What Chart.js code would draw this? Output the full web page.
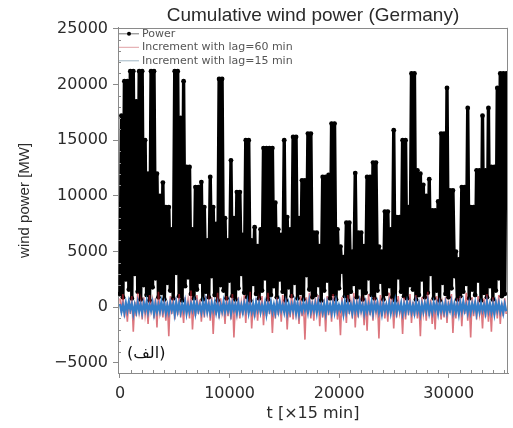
<!DOCTYPE html>
<html>
<head>
<meta charset="utf-8">
<script src="https://cdn.jsdelivr.net/npm/chart.js@4/dist/chart.umd.min.js"></script>
<style>
  html, body { margin: 0; padding: 0; background: #fff; }
  canvas { display: block; }
</style>
</head>
<body>
<canvas id="c" width="513" height="428"></canvas>
<script>
// Sampling step of the series on the t axis (t in units of 15 min)
const SAMPLE_STEP = 135;

// Cumulative wind power [MW], samples in time order
const power = [
  1200, 17200,  900, 20300, 2500, 20300, 1600, 21200,  800, 21200,
  3000, 18500, 1400, 21200,  700, 21200, 2000, 15000, 1100, 12000,
   600, 21200, 1800, 21200, 2600, 12000,  900, 10000, 1300, 11200,
   700,  9000, 2200,  9000, 1500,  7000,  800, 21200, 3100, 21200,
  1000, 17000,  600, 20300, 1900, 12600, 2700, 12600, 1200,  7000,
   800, 10800, 1600, 10800, 2300, 11250,  700,  9000, 1400,  6000,
   900, 11700, 2800,  9000, 1100,  7500,  600, 20500, 2000, 20500,
  1500,  8000,  800,  6000, 2400, 13200, 1000,  8000,  700, 10350,
  1700, 10350, 3000,  6500, 1300, 15000,  900, 15000,  600,  6000,
  2100,  7200, 1200,  5500,  800,  7000, 1500, 14300, 2600, 14300,
   700, 14300, 1100, 14300, 1900,  9400,  900,  7000, 2500,  6500,
  1400, 15000,  600,  8100, 1800,  7000, 1000, 15300, 2200, 15300,
   800,  8000, 1300, 11400,  700, 11400, 2900, 15600, 1600, 15600,
   900,  6700, 1100,  6700, 2000,  5500,  600, 11700, 1500, 11700,
  2400, 11900,  800, 16500, 1200, 16500,  700,  7000, 1700,  5450,
  3200,  4500, 1000,  7600,  600,  7600, 1400,  5000, 2100, 12050,
   900,  6700, 1800,  6700,  700,  5500, 1300, 11700, 2600, 11700,
  1100, 13000,  800, 13000, 1500,  5450, 2300,  5000,  700,  8600,
  1200,  8600, 1900,  7000,  900, 15900,  600,  8100, 2700,  8100,
  1400, 15000, 1000, 15000,  800,  9000, 2000, 21000, 1600, 21000,
   700, 12300, 1100, 12000, 2500, 11000,  900, 10000, 1300, 11500,
  3000,  8700,  800,  8700, 1500,  9500,  600, 15600, 2200, 15600,
  1200, 19700,  900, 10500, 1700, 10500, 2800,  5000,  700,  4300,
  1000, 10800, 1400, 10800, 2100, 17900,  800,  9000, 1600,  9000,
  1100, 12300, 2400, 12300,  600, 17200, 1300, 12300,  900, 17900,
  1900, 12600,  700, 12600, 1500, 19700, 2600, 21000, 1000, 21000,
  1200, 21000
];

// Increment of the power with a lag of 60 min [MW]
const incrementLag60 = [
   800,  -500, 1200,  -900,  300, -1300,  700,  -600, 1000, -2200,  500,  -800, 1300,  -400,  600, -1100,  900,  -700,  400, -1500,
  1100,  -300,  600, -1000,  800, -1800, 1400,  -500,  300,  -900,  700, -1200,  500, -2600, 1000,  -600,  800, -1100,  400,  -700,
  1200,  -900,  300, -1400,  900,  -500,  600, -1000, 1500, -2000,  400,  -800, 1100,  -600,  700, -1300,  500,  -900, 1000,  -400,
   600, -1200,  900, -2400,  400,  -700, 1300, -1000,  800,  -500,  300, -1500, 1000,  -800,  600, -1100, 1200, -2700,  500,  -600,
   900, -1000,  400,  -700, 1100, -1400,  700,  -500, 1400, -1900,  300,  -900,  800, -1200,  600,  -400, 1000, -1600,  500,  -800,
  1300,  -600,  700, -2300,  400, -1000,  900,  -700,  600, -1300, 1100,  -500,  800, -2000,  300,  -900, 1200, -1100,  700,  -600,
   500, -1500, 1000,  -800,  400, -2900,  900,  -600, 1300, -1000,  600, -1200,  800,  -400, 1100, -1700,  500,  -900,  700, -2200,
  1000,  -700,  400, -1300, 1200,  -500,  800, -1100,  300, -2500,  900,  -800,  600, -1400, 1100,  -600,  500, -1000, 1300, -1800,
   700,  -900, 1000,  -400,  500, -1600,  800, -2100, 1200,  -700,  400, -1200,  900,  -500,  600, -2800, 1100,  -800,  700, -1000,
   400, -1300, 1300,  -600,  800, -1900,  600,  -900, 1000,  -500,  300, -2400,  900, -1100,  700,  -700, 1200, -1400,  500,  -800,
  1100, -1000,  600, -2600,  900,  -600,  400, -1200, 1400,  -800,  700, -1500,  500, -2000, 1000,  -700,  800, -1100,  300,  -900,
   900, -1400,  600,  -500, 1200, -2300,  400, -1000,  800,  -700, 1000, -1700,  500,  -600, 1300, -1200,  700, -2700,  900,  -800,
   600, -1100, 1000,  -600,  400, -1900,  800,  -900, 1200, -1300,  500, -2200,  900,  -700,  700, -1000, 1100, -1500,  400,  -800,
   800,  -600
];

// Increment of the power with a lag of 15 min [MW]
const incrementLag15 = [
  300, -400, 200, -500, 400, -300, 500, -200, 300, -600, 200, -400, 450, -350, 250, -500, 350, -250, 500, -450,
  200, -300, 400, -550, 300, -400, 250, -350, 500, -300, 350, -500, 200, -450, 400, -250, 300, -600, 450, -350,
  350, -450, 250, -300, 500, -550, 200, -400, 300, -250, 450, -500, 350, -300, 200, -450, 400, -350, 550, -400,
  250, -500, 350, -300, 400, -450, 300, -600, 200, -350, 500, -400, 250, -300, 450, -550, 350, -250, 300, -500,
  400, -350, 200, -450, 350, -300, 500, -500, 250, -400, 300, -550, 450, -250, 350, -450, 200, -350, 400, -600,
  300, -250, 450, -400, 250, -500, 350, -350, 500, -300, 200, -450, 400, -550, 300, -400, 250, -300, 450, -500,
  350, -600, 200, -350, 400, -250, 300, -450, 550, -400, 250, -300, 350, -500, 450, -350, 200, -450, 300, -550,
  400, -300, 250, -500, 350, -450, 500, -350, 200, -250, 300, -600, 450, -400, 350, -300, 250, -500, 400, -350,
  300, -450, 500, -300, 200, -550, 350, -400, 250, -350, 450, -500, 300, -250, 400, -450, 200, -600, 350, -300,
  250, -400, 400, -500, 300, -350, 550, -450, 200, -300, 350, -550, 250, -400, 450, -300, 300, -450, 200, -500,
  450, -350, 300, -600, 250, -400, 350, -300, 500, -500, 200, -450, 400, -250, 300, -550, 350, -350, 250, -400,
  350, -500, 200, -300, 450, -450, 300, -400, 250, -600, 400, -350, 500, -300, 200, -500, 350, -450, 300, -250,
  400, -550, 250, -400, 350, -300, 200, -500, 450, -350, 300, -450, 250, -600, 400, -300, 350, -400, 200, -500,
  300, -350
];

const seriesNames = ['Power', 'Increment with lag=60 min', 'Increment with lag=15 min'];
const xTicks = [0, 10000, 20000, 30000];
const yTicks = [-5000, 0, 5000, 10000, 15000, 20000, 25000];
const MINOR_STEP_X = 1000;
const MINOR_STEP_Y = 1000;

const toXY = arr => arr.map((v, i) => ({ x: i * SAMPLE_STEP, y: v }));

const AXIS_GREY = '#8a8a8a';
const TEXT_DARK = '#2b2b2b';

// Frame, inward minor ticks, legend box and panel tag
const decorations = {
  id: 'decorations',
  afterDatasetsDraw(chart) {
    const { ctx, chartArea: a, scales: { x, y } } = chart;
    ctx.save();
    ctx.strokeStyle = AXIS_GREY;
    ctx.lineWidth = 1;
    ctx.beginPath();
    // top and right frame lines
    ctx.moveTo(a.left, Math.round(a.top) + 0.5);
    ctx.lineTo(a.right, Math.round(a.top) + 0.5);
    ctx.moveTo(Math.round(a.right) - 0.5, a.top);
    ctx.lineTo(Math.round(a.right) - 0.5, a.bottom);
    // minor ticks pointing into the plot
    for (let v = yTicks[0]; v <= yTicks[yTicks.length - 1]; v += MINOR_STEP_Y) {
      if (yTicks.includes(v)) continue;
      const py = Math.round(y.getPixelForValue(v)) + 0.5;
      ctx.moveTo(a.left, py); ctx.lineTo(a.left + 3, py);
    }
    for (let v = 0; v <= x.max; v += MINOR_STEP_X) {
      if (xTicks.includes(v)) continue;
      const px = Math.round(x.getPixelForValue(v)) + 0.5;
      ctx.moveTo(px, a.bottom); ctx.lineTo(px, a.bottom - 3);
    }
    ctx.stroke();

    // legend
    const ds = chart.data.datasets;
    const rowY = [a.top + 6, a.top + 19.5, a.top + 33];
    ctx.font = '11px "DejaVu Sans"';
    ctx.textBaseline = 'middle';
    ctx.textAlign = 'left';
    ds.forEach((d, i) => {
      const yy = rowY[i];
      ctx.beginPath();
      ctx.lineWidth = 1;
      ctx.strokeStyle = d.legendColor;
      ctx.moveTo(a.left + 1, yy);
      ctx.lineTo(a.left + 21, yy);
      ctx.stroke();
      if (i === 0) {
        ctx.beginPath();
        ctx.fillStyle = '#000';
        ctx.arc(a.left + 11, yy, 2, 0, Math.PI * 2);
        ctx.fill();
      }
      ctx.fillStyle = '#555';
      ctx.fillText(d.label, a.left + 24, yy);
    });

    // panel tag
    ctx.fillStyle = '#111';
    ctx.font = '16px "DejaVu Sans", serif';
    ctx.textBaseline = 'middle';
    ctx.fillText('(الف)', a.left + 9, a.bottom - 19);
    ctx.restore();
  }
};

const tickFont = { family: '"DejaVu Sans"', size: 16 };
const fmt = v => (v < 0 ? '\u2212' + Math.abs(v) : String(v));

new Chart(document.getElementById('c'), {
  type: 'line',
  data: {
    datasets: [
      {
        label: seriesNames[0], data: toXY(power), order: 3,
        borderColor: '#000', backgroundColor: '#000', borderWidth: 3.4,
        borderJoinStyle: 'round', borderCapStyle: 'round',
        pointRadius: 2.4, pointBorderWidth: 0, pointBackgroundColor: '#000',
        legendColor: '#777'
      },
      {
        label: seriesNames[1], data: toXY(incrementLag60), order: 2,
        borderColor: 'rgba(198, 34, 46, 0.62)', borderWidth: 1.6, pointRadius: 0,
        legendColor: '#e0a0a4'
      },
      {
        label: seriesNames[2], data: toXY(incrementLag15), order: 1,
        borderColor: 'rgb(52, 126, 200)', borderWidth: 2.2, pointRadius: 0,
        legendColor: '#9fb6c4'
      }
    ]
  },
  options: {
    responsive: false,
    animation: false,
    events: [],
    layout: { padding: { left: 0, right: 5, top: 0, bottom: 0 } },
    elements: { line: { tension: 0 } },
    plugins: {
      legend: { display: false },
      tooltip: { enabled: false },
      title: {
        display: true,
        fullSize: false,
        text: 'Cumulative wind power (Germany)',
        color: TEXT_DARK,
        font: { family: '"Liberation Sans"', size: 19, weight: 'normal' },
        padding: { top: 4, bottom: 1 }
      }
    },
    scales: {
      x: {
        type: 'linear',
        min: -180, max: 35400,
        afterBuildTicks: s => { s.ticks = xTicks.map(v => ({ value: v })); },
        afterFit: s => { s.height = 55; },
        ticks: { font: tickFont, color: TEXT_DARK, padding: 6, maxRotation: 0, autoSkip: false, callback: fmt },
        grid: { drawOnChartArea: false, drawTicks: true, tickLength: 5, color: AXIS_GREY },
        border: { display: true, color: AXIS_GREY },
        title: {
          display: true, text: 't [×15 min]', color: TEXT_DARK,
          font: { family: '"DejaVu Sans"', size: 16 },
          padding: { top: 0, bottom: 5 }
        }
      },
      y: {
        min: -5900, max: 25100,
        afterBuildTicks: s => { s.ticks = yTicks.map(v => ({ value: v })); },
        afterFit: s => { s.width = 118; },
        ticks: { font: tickFont, color: TEXT_DARK, padding: 5, autoSkip: false, callback: fmt },
        grid: { drawOnChartArea: false, drawTicks: true, tickLength: 5, color: AXIS_GREY },
        border: { display: true, color: AXIS_GREY },
        title: {
          display: true, text: 'wind power [MW]', color: TEXT_DARK,
          font: { family: '"Liberation Sans"', size: 15 },
          padding: { top: 16, bottom: 0 }
        }
      }
    }
  },
  plugins: [decorations]
});
</script>
</body>
</html>
